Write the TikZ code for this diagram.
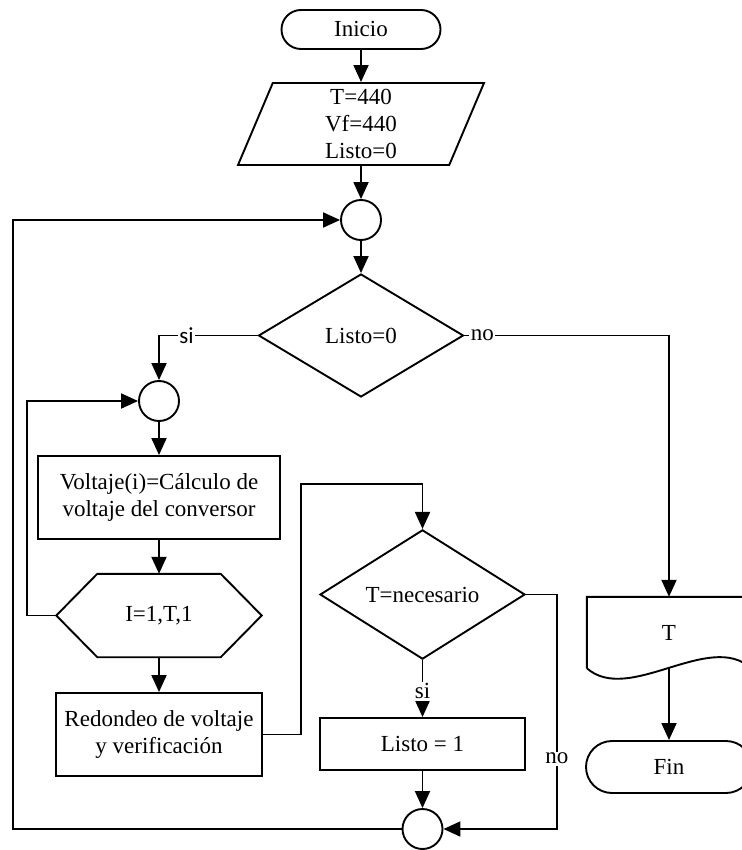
\documentclass[tikz,border=0pt]{standalone}
\usepackage{fontspec}
\setmainfont{Liberation Serif}
\newfontfamily\labelsans{Carlito}
\usetikzlibrary{arrows.meta,shapes.geometric,shapes.misc,calc}

\begin{document}
\begin{tikzpicture}[x=1pt,y=-1pt,
  font=\fontsize{23}{27}\selectfont,
  line/.style={line width=1.9pt},
  arr/.style={line, -{Triangle[length=17pt,width=15pt]}},
  base/.style={line, draw, inner sep=0pt, align=center},
  term/.style={base, rounded rectangle},
  proc/.style={base, rectangle},
  io/.style={base, trapezium, trapezium left angle=63.43, trapezium right angle=116.57,
             trapezium stretches body, minimum width=246pt, minimum height=82pt},
  cond/.style={base, diamond, minimum width=205pt, minimum height=123pt},
  conn/.style={base, circle, minimum size=40pt},
  frame/.style={inner sep=0pt, align=center},
  lbl/.style={fill=white, inner sep=1.5pt}
]
\fill[white] (0,0) rectangle (741,850);
\useasboundingbox (0,0) rectangle (741,850);

% main column
\node[term, minimum width=159pt, minimum height=39pt] (ini) at (361,29.5) {Inicio};
\node[io] (init) at (361,124) {T=440\\Vf=440\\Listo=0};
\node[conn] (c1) at (361,220) {};
\node[cond] (d1) at (361,335.5) {Listo=0};

% inner loop column
\node[conn] (c2) at (159,401) {};
\node[proc, minimum width=242pt, minimum height=83pt] (v) at (159,497.5) {Voltaje(i)=Cálculo de\\voltaje del conversor};
\node[frame, minimum width=205pt, minimum height=83pt] (loop) at (159,615.5) {I=1,T,1};
\draw[line] (loop.west) -- ([xshift=41pt]loop.north west) -- ([xshift=-41pt]loop.north east)
  -- (loop.east) -- ([xshift=-41pt]loop.south east) -- ([xshift=41pt]loop.south west) -- cycle;
\node[proc, minimum width=206pt, minimum height=83pt] (r) at (159,734.5) {Redondeo de voltaje\\y verificación};

% check column
\node[cond] (d2) at (422.5,594.5) {T=necesario};
\node[proc, minimum width=205pt, minimum height=52pt] (l1) at (422.5,744) {Listo = 1};
\node[conn] (c3) at (422.5,829) {};

% output column
\node[frame, minimum width=164pt, minimum height=71pt] (out) at (669,632.5) {T};
\draw[line] (out.south west) -- (out.north west) -- (out.north east) -- (out.south east)
  .. controls ($(out.south east)+(-42,-38)$) and ($(out.south west)+(42,37)$) .. (out.south west);
\coordinate (outb) at (out.south);
\node[term, minimum width=166pt, minimum height=52pt] (fin) at (669,767) {Fin};

% connectors
\draw[arr] (ini.south) -- (init.north);
\draw[arr] (init.south) -- (c1.north);
\draw[arr] (c1.south) -- (d1.north);
\draw[arr] (d1.west) -| node[lbl, pos=0.36] {\labelsans si} (c2.north);
\draw[arr] (d1.east) -| node[lbl, pos=0.044] {no} (out.north);
\draw[arr] (c2.south) -- (v.north);
\draw[arr] (v.south) -- (loop.north);
\draw[arr] (loop.south) -- (r.north);
\draw[arr] (loop.west) -- ++(-29,0) |- (c2.west);
\draw[arr] (r.east) -- ++(38,0) |- ($(d2.north)+(0,-45)$) -- (d2.north);
\draw[arr] (d2.south) -- node[lbl, pos=0.55] {si} (l1.north);
\draw[arr] (l1.south) -- (c3.north);
\draw[arr] (d2.east) -- ++(31,0) |- node[lbl, pos=0.35] {no} (c3.east);
\draw[arr] (c3.west) -- ++(-389,0) |- (c1.west);
\draw[arr] (outb) -- (fin.north);
\end{tikzpicture}
\end{document}
